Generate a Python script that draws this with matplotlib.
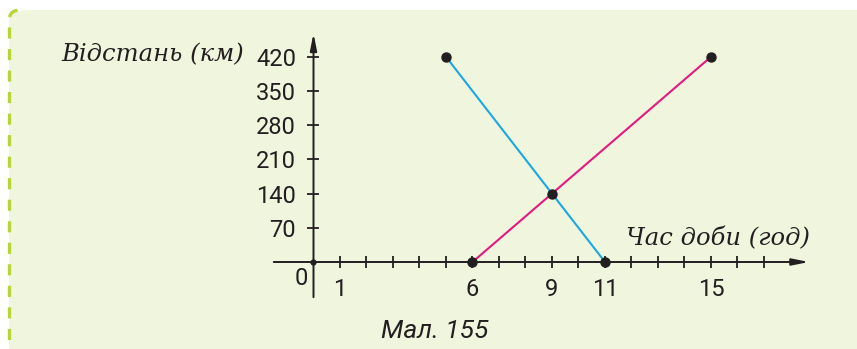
import numpy as np
import matplotlib.pyplot as plt
from matplotlib.patches import FancyBboxPatch
from matplotlib.lines import Line2D

plt.rcParams['lines.scale_dashes'] = False

# data
hours_blue = [5, 11]
dist_blue = [420, 0]
hours_pink = [6, 15]
dist_pink = [0, 420]
meet_hour = [9]
meet_dist = [140]
x_ticks = list(range(1, 18))
x_labels = {1: '1', 6: '6', 9: '9', 11: '11', 15: '15'}
y_ticks = [70, 140, 210, 280, 350, 420]

ink = '#231f20'
blue = '#19a9e1'
pink = '#e5197f'
bg = '#f0f5de'
lime = '#b7d438'

W, H = 857, 349
fig = plt.figure(figsize=(W / 100, H / 100), dpi=100, facecolor='white')

# panel background
panel = FancyBboxPatch((9 / W, -0.2), 1.2, 1.2 - 10 / H + 0.0, transform=fig.transFigure,
                       boxstyle='round,pad=0,rounding_size=0.025', facecolor=bg,
                       edgecolor='none', zorder=0)
fig.patches.append(panel)
# dashed left border with rounded corner
t = np.linspace(np.pi, np.pi / 2, 12)
r = 8
cx, cy = 9.5 + r, 10.5 + r
bx = np.concatenate([[9.5], cx + r * np.cos(t)])
by = np.concatenate([[H], cy - r * np.sin(t)])
border = Line2D(bx[::-1] / W, 1 - by[::-1] / H, transform=fig.transFigure, color=lime,
                lw=2.4, dashes=(8, 7.5), solid_capstyle='butt', dash_capstyle='butt')
fig.lines.append(border)

ax = fig.add_axes([0, 0, 1, 1])
ax.set_zorder(5)
ax.set_facecolor('none')
x0, ux = 313.5, 26.5
y0, uy = 262, 34.2 / 70
ax.set_xlim((0 - x0) / ux, (W - x0) / ux)
ax.set_ylim((y0 - H) / uy, (y0 - 0) / uy)

for s in ax.spines.values():
    s.set_visible(False)
ax.spines['left'].set_position(('data', 0))
ax.spines['bottom'].set_position(('data', 0))

# axes with arrows
ax.annotate('', xy=(18.7, 0), xytext=(-1.5, 0),
            arrowprops=dict(arrowstyle='-|>,head_length=1.0,head_width=0.2', color=ink, lw=1.4,
                            shrinkA=0, shrinkB=0))
ax.annotate('', xy=(0, 468), xytext=(0, -72),
            arrowprops=dict(arrowstyle='-|>,head_length=1.0,head_width=0.2', color=ink, lw=1.4,
                            shrinkA=0, shrinkB=0))

tick_font = dict(fontsize=17, family='Roboto', color=ink)
ax.set_xticks(x_ticks)
ax.set_xticklabels([x_labels.get(v, '') for v in x_ticks], **tick_font)
ax.set_yticks(y_ticks)
ax.set_yticklabels([str(v) for v in y_ticks], **tick_font)
ax.tick_params(axis='both', direction='inout', length=9, width=1.3, color=ink)
ax.tick_params(axis='x', pad=7)
ax.tick_params(axis='y', pad=8)

ax.text(-0.47, -33, '0', ha='center', va='center', **tick_font)

# lines
ax.plot(hours_blue, dist_blue, color=blue, lw=1.5, zorder=3)
ax.plot(hours_pink, dist_pink, color=pink, lw=1.5, zorder=3)
ax.plot(hours_blue + hours_pink + meet_hour, dist_blue + dist_pink + meet_dist, 'o',
        color=ink, ms=6.5, zorder=4)
ax.plot([0], [0], 'o', color=ink, ms=3.5, zorder=4)

ax.text(-2.6, 424, 'Відстань (км)', fontsize=17.5, family='DejaVu Serif', style='italic',
        color=ink, ha='right', va='center')
ax.text(18.74, 49, 'Час доби (год)', fontsize=17.5, family='DejaVu Serif', style='italic',
        color=ink, ha='right', va='center')
ax.text(4.58, -141, 'Мал. 155', fontsize=19, family='Roboto', style='italic',
        color=ink, ha='center', va='center')

fig.savefig('out.png', dpi=100, facecolor='white')
